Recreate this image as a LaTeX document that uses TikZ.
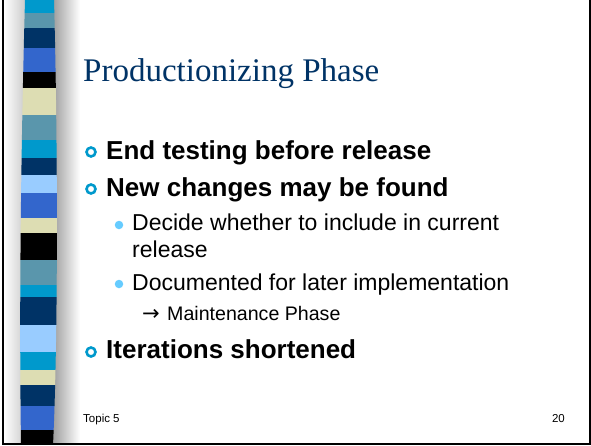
\documentclass[tikz,border=0pt]{standalone}
\usepackage{fontspec}
\setmainfont{Liberation Sans}
\newfontfamily\titlefont{Liberation Serif}
\newfontfamily\symfont{DejaVu Sans}
\usetikzlibrary{shadings}
\definecolor{cyanS}{RGB}{0,153,204}
\definecolor{steelS}{RGB}{90,150,172}
\definecolor{navyS}{RGB}{0,51,102}
\definecolor{royalS}{RGB}{51,102,204}
\definecolor{beigeS}{RGB}{221,221,179}
\definecolor{lightS}{RGB}{153,204,255}
\definecolor{titleC}{RGB}{0,51,102}
\definecolor{dotC}{RGB}{102,204,255}
\tikzset{
  lvlone/.style={anchor=base west, inner sep=0pt, font=\fontsize{26}{30}\selectfont\bfseries},
  lvltwo/.style={anchor=base west, inner sep=0pt, font=\fontsize{23}{27}\selectfont},
  lvlthree/.style={anchor=base west, inner sep=0pt, font=\fontsize{19.6}{23}\selectfont},
  ring/.style={circle, draw=cyanS, line width=2.6pt, minimum size=9pt, inner sep=0pt},
  subdot/.style={circle, fill=dotC, minimum size=8.5pt, inner sep=0pt},
  footer/.style={inner sep=0pt, font=\fontsize{11.5}{13}\selectfont}
}
\begin{document}
\begin{tikzpicture}[x=1pt,y=-1pt]
\useasboundingbox (0,0) rectangle (591,445);
\fill[white] (0,0) rectangle (591,445);
% left shading
\shade[left color=white, right color=black!25] (4,0) rectangle (30,443);
\shade[left color=black!42, right color=white] (50,0) rectangle (80,443);
% stripes
\begin{scope}
\clip (25,0) .. controls (21,150) and (19,300) .. (21,445) -- (53,445) .. controls (58,340) and (58,150) .. (54,0) -- cycle;
\fill[cyanS] (0,0) rectangle (80,13);
\fill[steelS] (0,13) rectangle (80,28);
\fill[navyS] (0,28) rectangle (80,48);
\fill[royalS] (0,48) rectangle (80,72);
\fill[black] (0,72) rectangle (80,88);
\fill[beigeS] (0,88) rectangle (80,115);
\fill[steelS] (0,115) rectangle (80,140);
\fill[cyanS] (0,140) rectangle (80,158);
\fill[navyS] (0,158) rectangle (80,175);
\fill[lightS] (0,175) rectangle (80,193);
\fill[royalS] (0,193) rectangle (80,218);
\fill[beigeS] (0,218) rectangle (80,233);
\fill[black] (0,233) rectangle (80,260);
\fill[steelS] (0,260) rectangle (80,285);
\fill[cyanS] (0,285) rectangle (80,297);
\fill[navyS] (0,297) rectangle (80,325);
\fill[lightS] (0,325) rectangle (80,352);
\fill[cyanS] (0,352) rectangle (80,370);
\fill[beigeS] (0,370) rectangle (80,385);
\fill[navyS] (0,385) rectangle (80,406);
\fill[royalS] (0,406) rectangle (80,430);
\fill[black] (0,430) rectangle (80,445);
\end{scope}
% frame
\draw[line width=2pt] (2.5,0) -- (2.5,443.5) -- (589.5,443.5) -- (589.5,0);
% title
\node[anchor=base west, inner sep=0pt, text=titleC, font=\titlefont\fontsize{33}{40}\selectfont] (title) at (83,81) {Productionizing Phase};
% bullets
\node[ring] (r1) at (91,152) {};
\node[lvlone] (b1) at (106,159.5) {End testing before release};
\node[ring] (r2) at (91,189) {};
\node[lvlone] (b2) at (106,196.7) {New changes may be found};
\node[subdot] (d1) at (119,225) {};
\node[lvltwo] (s1) at (132,230.5) {Decide whether to include in current};
\node[lvltwo] (s1b) at (132,257.7) {release};
\node[subdot] (d2) at (119,284) {};
\node[lvltwo] (s2) at (132,290) {Documented for later implementation};
\node[lvlthree, font=\symfont\fontsize{21}{24}\selectfont] (arr) at (142,320.5) {→};
\node[lvlthree] (s3) at (167,320) {Maintenance Phase};
\node[ring] (r3) at (91,352) {};
\node[lvlone] (b3) at (106,358.5) {Iterations shortened};
% footer
\node[footer, anchor=base west] (ft) at (83,422) {Topic 5};
\node[footer, anchor=base east] (pg) at (565,422) {20};
\end{tikzpicture}
\end{document}
